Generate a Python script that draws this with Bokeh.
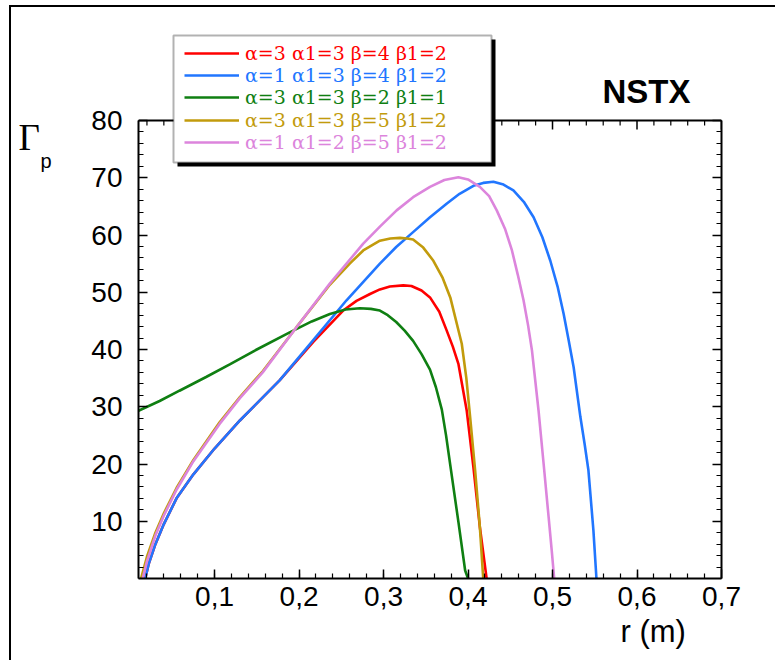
from bokeh.plotting import figure
from bokeh.models import (Range1d, FixedTicker, LinearAxis, CustomJSTickFormatter,
                          Legend, LegendItem, Label, BoxAnnotation)
from bokeh.embed import file_html
from bokeh.resources import INLINE

# ---------------- data ----------------
red_label = "α=3 α1=3 β=4 β1=2"
red_r = [0.018, 0.022, 0.03, 0.04, 0.055, 0.075, 0.1, 0.13, 0.177, 0.2166, 0.2522, 0.268,
         0.284, 0.2957, 0.3075, 0.3234, 0.333, 0.345, 0.355, 0.366, 0.3748, 0.382, 0.3886,
         0.3985, 0.4064, 0.414, 0.422]
red_g = [0.0, 2.5, 6.0, 9.5, 14.0, 18.2, 22.7, 27.6, 34.6, 41.3, 46.8, 48.5,
         49.7, 50.5, 51.0, 51.2, 51.1, 50.3, 49.1, 46.6, 43.3, 40.5, 37.5,
         29.3, 19.4, 9.0, 0.0]

blue_label = "α=1 α1=3 β=4 β1=2"
blue_r = [0.018, 0.022, 0.03, 0.04, 0.055, 0.075, 0.1, 0.13, 0.177, 0.2166, 0.2562, 0.2957,
          0.315, 0.335, 0.355, 0.375, 0.39, 0.4064, 0.418, 0.43, 0.442, 0.4537, 0.466,
          0.4776, 0.488, 0.4974, 0.506, 0.5132, 0.519, 0.525, 0.533, 0.538, 0.5425,
          0.5484, 0.552]
blue_g = [0.0, 2.5, 6.0, 9.5, 14.0, 18.2, 22.7, 27.6, 34.6, 41.6, 48.6, 55.0,
          57.9, 60.5, 63.1, 65.5, 67.2, 68.6, 69.1, 69.3, 68.8, 67.8, 65.8,
          63.1, 59.6, 55.5, 51.0, 46.2, 41.7, 36.9, 28.2, 23.5, 18.9,
          8.4, 0.0]

green_label = "α=3 α1=3 β=2 β1=1"
green_r = [0.01, 0.035, 0.0585, 0.09, 0.118, 0.15, 0.189, 0.215, 0.2365, 0.255, 0.272,
           0.285, 0.2957, 0.305, 0.315, 0.325, 0.335, 0.345, 0.355, 0.362, 0.369, 0.374,
           0.379, 0.3887, 0.3966, 0.4]
green_g = [29.3, 31.0, 32.8, 35.2, 37.4, 40.0, 43.0, 44.9, 46.2, 47.0, 47.2,
           47.1, 46.8, 46.0, 44.8, 43.3, 41.5, 39.2, 36.5, 33.4, 29.5, 25.0,
           19.8, 9.8, 1.4, 0.0]

gold_label = "α=3 α1=3 β=5 β1=2"
gold_r = [0.013, 0.02, 0.03, 0.04, 0.055, 0.075, 0.106, 0.13, 0.157, 0.197, 0.2364, 0.26,
          0.276, 0.2957, 0.308, 0.3194, 0.328, 0.335, 0.347, 0.359, 0.37, 0.379, 0.3926,
          0.398, 0.4025, 0.4084, 0.414, 0.418]
gold_g = [0.0, 3.8, 8.0, 11.4, 15.8, 20.7, 27.3, 31.7, 36.2, 43.9, 51.3, 55.0,
          57.3, 59.0, 59.4, 59.5, 59.4, 59.2, 57.8, 55.5, 52.5, 49.1, 41.0,
          35.0, 28.2, 18.9, 9.0, 0.0]

pink_label = "α=1 α1=2 β=5 β1=2"
pink_r = [0.015, 0.02, 0.03, 0.04, 0.055, 0.075, 0.106, 0.13, 0.157, 0.197, 0.2364, 0.276,
          0.296, 0.3155, 0.335, 0.355, 0.372, 0.3886, 0.40, 0.414, 0.425, 0.434, 0.444,
          0.452, 0.459, 0.4657, 0.471, 0.4757, 0.4835, 0.4895, 0.4954, 0.499, 0.502]
pink_g = [0.0, 3.0, 7.5, 11.0, 15.5, 20.5, 27.0, 31.5, 36.0, 43.9, 51.5, 58.5,
          61.5, 64.3, 66.6, 68.4, 69.6, 70.1, 69.7, 68.4, 66.8, 64.3, 61.0,
          57.3, 53.0, 48.6, 44.3, 39.8, 29.3, 20.0, 10.7, 5.0, 0.0]

x_major = [0.1, 0.2, 0.3, 0.4, 0.5, 0.6, 0.7]
x_minor = [round(0.02 * i, 2) for i in range(1, 35)]
y_major = [10, 20, 30, 40, 50, 60, 70, 80]
y_minor = [2 * i for i in range(0, 41)]
x_lo, x_hi = 0.01, 0.7
y_lo, y_hi = 0, 80

colors = ["#ff0000", "#2176ff", "#0f7f12", "#c29b0c", "#dc85dc"]
series = [(red_label, red_r, red_g), (blue_label, blue_r, blue_g),
          (green_label, green_r, green_g), (gold_label, gold_r, gold_g),
          (pink_label, pink_r, pink_g)]

# ---------------- figure ----------------
# The frame reaches above the axes box so the legend box and the NSTX tag
# (which stick out above the box in the original) are not clipped.
FL, FT, FW, FH = 138, 28, 583, 550
BOX_H = 458                                   # pixel height of the 0..80 axes box
p = figure(frame_width=FW, frame_height=FH,
           x_range=Range1d(x_lo, x_hi), y_range=Range1d(y_lo, y_hi * FH / BOX_H),
           x_axis_location=None, y_axis_location=None,
           output_backend="svg", toolbar_location=None,
           min_border_left=FL, min_border_right=54,
           min_border_top=FT, min_border_bottom=82)
p.grid.visible = False
p.outline_line_color = None
p.background_fill_color = "white"
p.border_fill_color = "white"

try:
    from bokeh.models import InlineStyleSheet
    css = (":host::after{content:'';position:absolute;left:9px;top:5px;right:0;bottom:0;"
           "border-left:2px solid #000;border-top:2px solid #000;pointer-events:none;}")
    p.stylesheets = [InlineStyleSheet(css=css)]
except Exception:
    pass

xt = FixedTicker(ticks=x_major, minor_ticks=x_minor)
yt = FixedTicker(ticks=y_major, minor_ticks=y_minor)
fmt_x = CustomJSTickFormatter(code="return tick.toFixed(1).replace('.', ',');")

bottom_axis = LinearAxis(ticker=xt, formatter=fmt_x)
left_axis = LinearAxis(ticker=yt, bounds=(y_lo, y_hi))
right_axis = LinearAxis(ticker=yt, bounds=(y_lo, y_hi),
                        formatter=CustomJSTickFormatter(code="return '';"))
p.add_layout(bottom_axis, "below")
p.add_layout(left_axis, "left")
p.add_layout(right_axis, "right")

for ax in [bottom_axis, left_axis, right_axis]:
    ax.axis_line_color = "black"
    ax.axis_line_width = 2
    ax.major_tick_in = 9
    ax.major_tick_out = 0
    ax.minor_tick_in = 5
    ax.minor_tick_out = 0
    ax.major_tick_line_width = 1.5
    ax.minor_tick_line_width = 1.2
    ax.major_tick_line_color = "black"
    ax.minor_tick_line_color = "black"
    ax.major_label_text_font = "Liberation Sans"
    ax.major_label_text_font_size = "28px"
    ax.major_label_text_color = "black"
right_axis.major_label_text_font_size = "1px"
right_axis.major_label_standoff = 0
bottom_axis.major_label_standoff = 8
left_axis.major_label_standoff = 16

# top edge of the axes box, with inward ticks (the original draws a closed box)
px_per_unit = BOX_H / (y_hi - y_lo)
p.segment(x0=[x_lo], y0=[y_hi], x1=[x_hi], y1=[y_hi], line_color="black", line_width=2)
p.segment(x0=x_major, y0=[y_hi] * len(x_major), x1=x_major,
          y1=[y_hi - 9 / px_per_unit] * len(x_major), line_color="black", line_width=1.5)
minor_only = [t for t in x_minor if all(abs(t - m) > 1e-9 for m in x_major)]
p.segment(x0=minor_only, y0=[y_hi] * len(minor_only), x1=minor_only,
          y1=[y_hi - 5 / px_per_unit] * len(minor_only), line_color="black", line_width=1.2)

rends = []
for (lab, xs, ys), c in zip(series, colors):
    rends.append(p.line(xs, ys, line_color=c, line_width=2.6))

# legend box with its shadow (canvas pixel units)
p.add_layout(BoxAnnotation(left=177, right=495, top=39, bottom=166,
                           left_units="canvas", right_units="canvas",
                           top_units="canvas", bottom_units="canvas",
                           fill_color="black", fill_alpha=1, line_color=None))
p.add_layout(BoxAnnotation(left=173, right=491, top=35, bottom=162,
                           left_units="canvas", right_units="canvas",
                           top_units="canvas", bottom_units="canvas",
                           fill_color="white", fill_alpha=1,
                           line_color="black", line_width=2))

ROW_H = 22
ROW_STEP = 22.2
for i, ((lab, xs, ys), c, r) in enumerate(zip(series, colors, rends)):
    center = 53 + i * ROW_STEP
    lg = Legend(items=[LegendItem(label=lab, renderers=[r])],
                location=(184 - FL, (FT + FH) - center - ROW_H / 2),
                glyph_width=55, glyph_height=ROW_H, label_height=ROW_H,
                label_standoff=6, padding=0, margin=0, spacing=0,
                label_text_font="DejaVu Serif", label_text_font_size="19px",
                label_text_color=c, background_fill_alpha=0, border_line_alpha=0)
    p.add_layout(lg, "center")


def text_label(x, y, text, **kw):
    return Label(x=x, y=y, x_units="canvas", y_units="canvas", text=text,
                 text_baseline="middle", text_color="black", **kw)


p.add_layout(text_label(602, 91, "NSTX", text_font="Liberation Sans",
                        text_font_size="33px", text_font_style="bold"), "center")
p.add_layout(text_label(620, 631, "r (m)", text_font="Liberation Sans",
                        text_font_size="31px"), "below")
p.add_layout(text_label(18, 137, "Γ", text_font="Liberation Serif",
                        text_font_size="37px"), "left")
p.add_layout(text_label(40, 160, "p", text_font="Liberation Sans",
                        text_font_size="20px"), "left")

open("out.html", "w").write(file_html(p, INLINE))
